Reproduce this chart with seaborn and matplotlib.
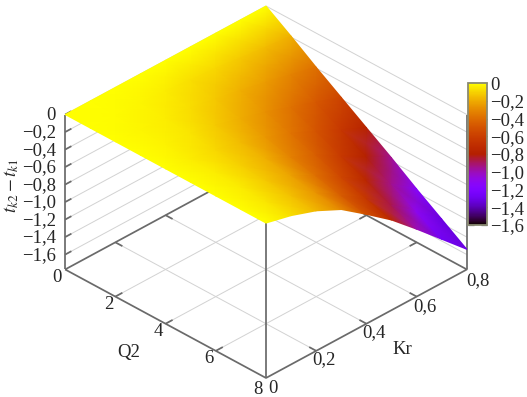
import matplotlib
matplotlib.use("Agg")
import matplotlib.pyplot as plt
import matplotlib.cm as cm
from matplotlib.colors import Normalize
from mpl_toolkits.mplot3d import proj3d
import numpy as np
import seaborn as sns

# Grid
q2_values = [0, 1, 2, 3, 4, 5, 6, 7, 8]
kr_values = [0, 0.1, 0.2, 0.3, 0.4, 0.5, 0.6, 0.7, 0.8]
z_kr_00 = [0, 0, 0, 0, 0, 0, 0, 0, 0]
z_kr_01 = [0, -0.01, -0.02, -0.03, -0.04, -0.04, -0.05, -0.06, -0.07]
z_kr_02 = [0, -0.02, -0.04, -0.06, -0.09, -0.11, -0.13, -0.15, -0.17]
z_kr_03 = [0, -0.04, -0.08, -0.12, -0.16, -0.19, -0.23, -0.27, -0.31]
z_kr_04 = [0, -0.07, -0.13, -0.20, -0.26, -0.33, -0.39, -0.46, -0.52]
z_kr_05 = [0, -0.09, -0.19, -0.28, -0.37, -0.46, -0.56, -0.65, -0.74]
z_kr_06 = [0, -0.13, -0.25, -0.38, -0.50, -0.63, -0.75, -0.88, -1.00]
z_kr_07 = [0, -0.16, -0.32, -0.48, -0.64, -0.79, -0.95, -1.11, -1.27]
z_kr_08 = [0, -0.19, -0.39, -0.58, -0.77, -0.96, -1.16, -1.35, -1.54]

q2_ticks = [0, 2, 4, 6, 8]
kr_ticks = [0, 0.2, 0.4, 0.6, 0.8]
z_ticks = [0, -0.2, -0.4, -0.6, -0.8, -1.0, -1.2, -1.4, -1.6]
q2_labels = ["0", "2", "4", "6", "8"]
kr_labels = ["0", "0,2", "0,4", "0,6", "0,8"]
z_labels = ["0", "−0,2", "−0,4", "−0,6", "−0,8", "−1,0", "−1,2", "−1,4", "−1,6"]

sns.set_style("white")
plt.rcParams["font.family"] = ["Liberation Serif", "DejaVu Serif"]
plt.rcParams["mathtext.fontset"] = "stix"
FS = 13.5
AXIS_C = "#6a6a6a"
GRID_C = "#d2d2d2"
Z_BASE = -1.77

Z = np.array([z_kr_00, z_kr_01, z_kr_02, z_kr_03, z_kr_04, z_kr_05, z_kr_06, z_kr_07, z_kr_08])
Q, K = np.meshgrid(q2_values, kr_values)
cmap = sns.color_palette("gnuplot", as_cmap=True)
norm = Normalize(-1.6, 0)

W, H = 527, 397
fig = plt.figure(figsize=(W / 100, H / 100), dpi=100)
S = 429
ax = fig.add_axes([45.7 / W, -15.3 / H, S / W, S / H], projection="3d", proj_type="ortho",
                  computed_zorder=False)
ax.set_autoscale_on(False)
ax.set_axis_off()
ax.patch.set_alpha(0)
ax.set_box_aspect((1, 1, 0.648))
ax.view_init(elev=32.7, azim=-45)
ax.set_xlim(0, 8, view_margin=0)
ax.set_ylim(0, 0.8, view_margin=0)
ax.set_zlim(Z_BASE, 0, view_margin=0)
M = ax.get_proj()


def line(xs, ys, zs, color=AXIS_C, lw=1.25, zorder=2):
    ax.plot(xs, ys, zs, color=color, lw=lw, zorder=zorder, clip_on=False, solid_capstyle="butt")


def label(x, y, z, s, dx, dy, ha="center"):
    px, py, _ = proj3d.proj_transform(x, y, z, M)
    ax.annotate(s, (px, py), xytext=(dx, -dy), textcoords="offset pixels", ha=ha, va="center",
                fontsize=FS, annotation_clip=False)


# floor grid and wall lines
for q in q2_ticks[1:-1]:
    line([q, q], [0, 0.8], [Z_BASE, Z_BASE], GRID_C, 0.7, 1)
    line([q, q], [0, 0.028], [Z_BASE, Z_BASE])
    line([q, q], [0.8, 0.772], [Z_BASE, Z_BASE])
for k in kr_ticks[1:-1]:
    line([0, 8], [k, k], [Z_BASE, Z_BASE], GRID_C, 0.7, 1)
    line([0, 0.28], [k, k], [Z_BASE, Z_BASE])
    line([8, 7.72], [k, k], [Z_BASE, Z_BASE])
for z in z_ticks:
    line([0, 0], [0, 0.8], [z, z], GRID_C, 0.7, 1)
    line([0, 8], [0.8, 0.8], [z, z], GRID_C, 0.7, 1)
    line([0, 0], [0, 0.025], [z, z])

# box
line([0, 8, 8, 0, 0], [0, 0, 0.8, 0.8, 0], [Z_BASE] * 5)
line([0, 0], [0, 0], [Z_BASE, 0])
line([8, 8], [0, 0], [Z_BASE, 0])
line([8, 8], [0.8, 0.8], [Z_BASE, 0])

# surface, projected by hand so it can be gouraud shaded on the 3d axes
px, py, _ = proj3d.proj_transform(Q.ravel(), K.ravel(), Z.ravel(), M)
mesh = ax.pcolormesh(px.reshape(Q.shape), py.reshape(Q.shape), np.maximum(Z, -1.32),
                     cmap=cmap, norm=norm, shading="gouraud", zorder=3, clip_on=False)
mesh.do_3d_projection = lambda: 0

# tick labels
for q, s, dx, dy in zip(q2_ticks, q2_labels, [-8, -7, -7, -7, -8], [8, 8, 8, 8, 12]):
    label(q, 0, Z_BASE, s, dx, dy)
for k, s, dx, dy in zip(kr_ticks, kr_labels, [7, 8, 8, 8, 11], [11, 9, 9, 10, 11]):
    label(8, k, Z_BASE, s, dx, dy)
for z, s in zip(z_ticks, z_labels):
    label(0, 0, z, s, -9, 1, ha="right")

fig.text(129 / W, 1 - 352 / H, "Q2", fontsize=FS, ha="center", va="center")
fig.text(402 / W, 1 - 349 / H, "Kr", fontsize=FS, ha="center", va="center")
fig.text(12 / W, 1 - 186 / H, r"$t_{k2}-t_{k1}$", fontsize=FS, rotation=90, ha="center", va="center")

# colour box
cax = fig.add_axes([468 / W, 1 - 225 / H, 19 / W, 142 / H])
cb = fig.colorbar(cm.ScalarMappable(norm=norm, cmap=cmap), cax=cax, ticks=z_ticks)
cb.ax.set_yticklabels(z_labels, fontsize=FS)
cb.ax.tick_params(axis="y", left=True, right=True, direction="in", length=4, width=0.9,
                  color=AXIS_C, pad=2.5)
cb.outline.set_edgecolor("#8a8a72")
cb.outline.set_linewidth(1.3)

fig.savefig("out.png", dpi=100)
